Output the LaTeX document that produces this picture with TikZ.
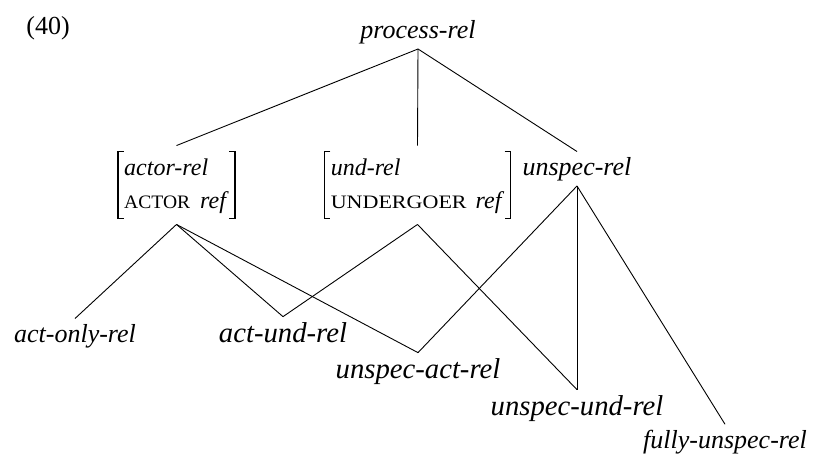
\documentclass[tikz,border=0pt]{standalone}
\usepackage{fontspec}
\setmainfont{Liberation Serif}
% small capitals, faked by size and width
\newcommand{\smcap}[2]{{\fontsize{19}{33}\selectfont\addfontfeatures{FakeStretch=#1}#2}}
% square brackets round an attribute-value box
\newcommand{\avmbrackets}[1]{%
    \draw[bracket] ([xshift=6pt,yshift=-6pt]#1.north west) -- ([yshift=-6pt]#1.north west) -- ([yshift=6pt]#1.south west) -- ([xshift=6pt,yshift=6pt]#1.south west);
    \draw[bracket] ([xshift=-6pt,yshift=-6pt]#1.north east) -- ([yshift=-6pt]#1.north east) -- ([yshift=6pt]#1.south east) -- ([xshift=-6pt,yshift=6pt]#1.south east);}

\begin{document}
\begin{tikzpicture}[x=1pt,y=-1pt,line width=0.9pt,
                type/.style={anchor=base,inner sep=5pt,font=\fontsize{26}{31}\selectfont\itshape},
                bigtype/.style={anchor=base,inner sep=5pt,font=\fontsize{28.7}{34}\selectfont\itshape},
                avm/.style={inner xsep=6pt,inner ysep=6pt,font=\fontsize{24}{33}\selectfont},
                bracket/.style={line width=1.5pt,line join=miter}]
                \useasboundingbox (0,0) rectangle (814,456);
                \node[anchor=base, font=\fontsize{26}{31}\selectfont] (num) at (48,34) {(40)};
                \node[type] (process) at (418,38) {process-rel};
                \node[avm] (actor) at (176.5,185) {\begin{tabular}{@{}l@{}}\textit{actor-rel}\\ \smcap{1.03}{ACTOR}\hspace{10pt}\textit{ref}\end{tabular}};
                \node[avm] (und) at (417.5,185) {\begin{tabular}{@{}l@{}}\textit{und-rel}\\ \smcap{1.16}{UNDERGOER}\hspace{9pt}\textit{ref}\end{tabular}};
                \avmbrackets{actor}
                \avmbrackets{und}
                \node[type] (unspec) at (577,175) {unspec-rel};
                \node[type] (actonly) at (75,342) {act-only-rel};
                \node[bigtype] (actund) at (283,342) {act-und-rel};
                \node[bigtype] (unspecact) at (418,378) {unspec-act-rel};
                \node[bigtype] (unspecund) at (577,415) {unspec-und-rel};
                \node[type] (fully) at (725,448) {fully-unspec-rel};
                % upper level
                \draw (process.south) -- (actor.north);
                \draw (process.south) -- (und.north);
                \draw (process.south) -- (unspec.north);
                % lower level
                \draw (actor.south) -- (actonly.north);
                \draw (actor.south) -- (actund.north);
                \draw (actor.south) -- (unspecact.north);
                \draw (und.south) -- (actund.north);
                \draw (und.south) -- (unspecund.north);
                \draw (unspec.south) -- (unspecact.north);
                \draw (unspec.south) -- (unspecund.north);
                \draw (unspec.south) -- (fully.north);
\end{tikzpicture}
\end{document}
